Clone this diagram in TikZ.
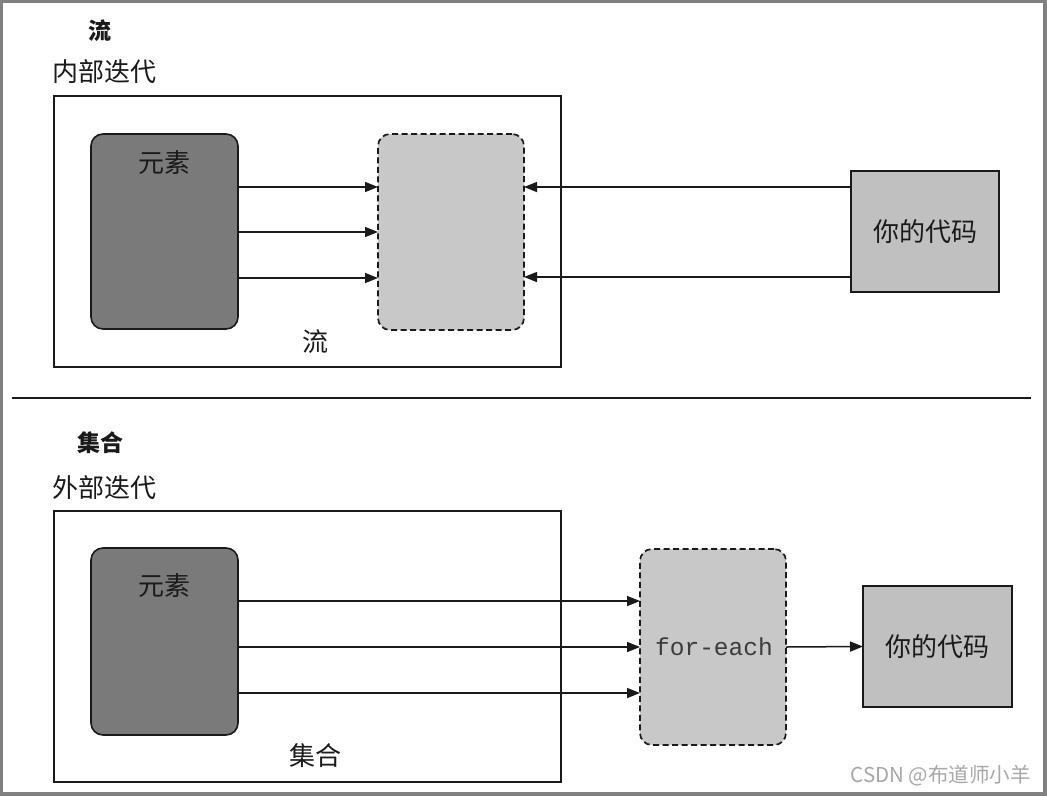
\documentclass[tikz,border=0pt]{standalone}
\usepackage{fontspec}
\setmainfont{Liberation Serif}
\setmonofont{Liberation Mono}
\newfontfamily\cjk{Noto Sans CJK SC}
\usetikzlibrary{arrows.meta}
\definecolor{darkfill}{HTML}{7A7A7A}
\definecolor{lightfill}{HTML}{C8C8C8}
\definecolor{codefill}{HTML}{C0C0C0}
\definecolor{framegray}{HTML}{808080}
\definecolor{inkcol}{HTML}{1A1A1A}
\definecolor{wmgray}{HTML}{A8A8A8}
\tikzset{
  outerbox/.style={draw=inkcol, line width=1.6pt, inner sep=0pt, outer sep=0pt},
  elembox/.style={draw=inkcol, fill=darkfill, rounded corners=12pt, line width=1.6pt, inner sep=0pt, outer sep=0pt},
  iterbox/.style={draw=inkcol, fill=lightfill, rounded corners=12pt, line width=1.7pt, dash pattern=on 6pt off 3.5pt, inner sep=0pt, outer sep=0pt},
  codebox/.style={draw=inkcol, fill=codefill, line width=1.6pt, inner sep=0pt, outer sep=0pt, font=\cjk\fontsize{26}{30}\selectfont, text=inkcol},
  cjklabel/.style={font=\cjk\fontsize{26}{30}\selectfont, text=inkcol, inner sep=0pt},
  heading/.style={font=\cjk\bfseries\fontsize{23}{27}\selectfont, text=inkcol, inner sep=0pt},
  arr/.style={draw=inkcol, line width=1.5pt, -{Triangle[length=13pt,width=10pt]}},
}
\begin{document}
\begin{tikzpicture}[x=1pt,y=-1pt]
\useasboundingbox (0,0) rectangle (1047,796);
\fill[white] (0,0) rectangle (1047,796);
\draw[framegray, line width=3.5pt] (1.5,1.5) rectangle (1045,794);

% ---------- top part: stream ----------
\node[heading] (h1) at (100,31) {流};
\node[cjklabel, anchor=west] (t1) at (52,72) {内部迭代};
\node[outerbox, minimum width=507pt, minimum height=271pt] (o1) at (307.5,231.5) {};
\node[elembox, minimum width=147pt, minimum height=195pt] (e1) at (164.5,231.5) {};
\node[cjklabel] (el1) at (164.5,163) {元素};
\node[iterbox, minimum width=146pt, minimum height=196pt] (d1) at (451,232) {};
\node[cjklabel] (s1) at (315,342) {流};
\node[codebox, minimum width=148pt, minimum height=121pt] (c1) at (925,231.5) {你的代码};

\draw[arr] (e1.east |- 0,187) -- (d1.west |- 0,187);
\draw[arr] (e1.east |- 0,232) -- (d1.west |- 0,232);
\draw[arr] (e1.east |- 0,278) -- (d1.west |- 0,278);
\draw[arr] (c1.west |- 0,187) -- (d1.east |- 0,187);
\draw[arr] (c1.west |- 0,277) -- (d1.east |- 0,277);

% separator
\coordinate (sepL) at (12,398);
\coordinate (sepR) at (1031,398);
\draw[inkcol, line width=1.6pt] (sepL) -- (sepR);

% ---------- bottom part: collection ----------
\node[heading] (h2) at (100,443) {集合};
\node[cjklabel, anchor=west] (t2) at (52,488) {外部迭代};
\node[outerbox, minimum width=507pt, minimum height=271pt] (o2) at (307.5,646.5) {};
\node[elembox, minimum width=147pt, minimum height=187pt] (e2) at (164.5,641.5) {};
\node[cjklabel] (el2) at (164.5,586) {元素};
\node[iterbox, minimum width=146pt, minimum height=196pt] (d2) at (713,647) {};
\node[font=\ttfamily\fontsize{24.5}{28}\selectfont, text=inkcol!85, inner sep=0pt] (fe) at (714,647) {for-each};
\node[cjklabel] (s2) at (315,756) {集合};
\node[codebox, minimum width=149pt, minimum height=121pt] (c2) at (937.5,646.5) {你的代码};

\draw[arr] (e2.east |- 0,601) -- (d2.west |- 0,601);
\draw[arr] (e2.east |- 0,647) -- (d2.west |- 0,647);
\draw[arr] (e2.east |- 0,693) -- (d2.west |- 0,693);
\draw[arr] (d2.east) -- (c2.west);

% watermark
\node[font=\cjk\fontsize{20.5}{24}\selectfont, text=wmgray, anchor=east, inner sep=0pt] (wm) at (1031,776) {CSDN @布道师小羊};
\end{tikzpicture}
\end{document}
